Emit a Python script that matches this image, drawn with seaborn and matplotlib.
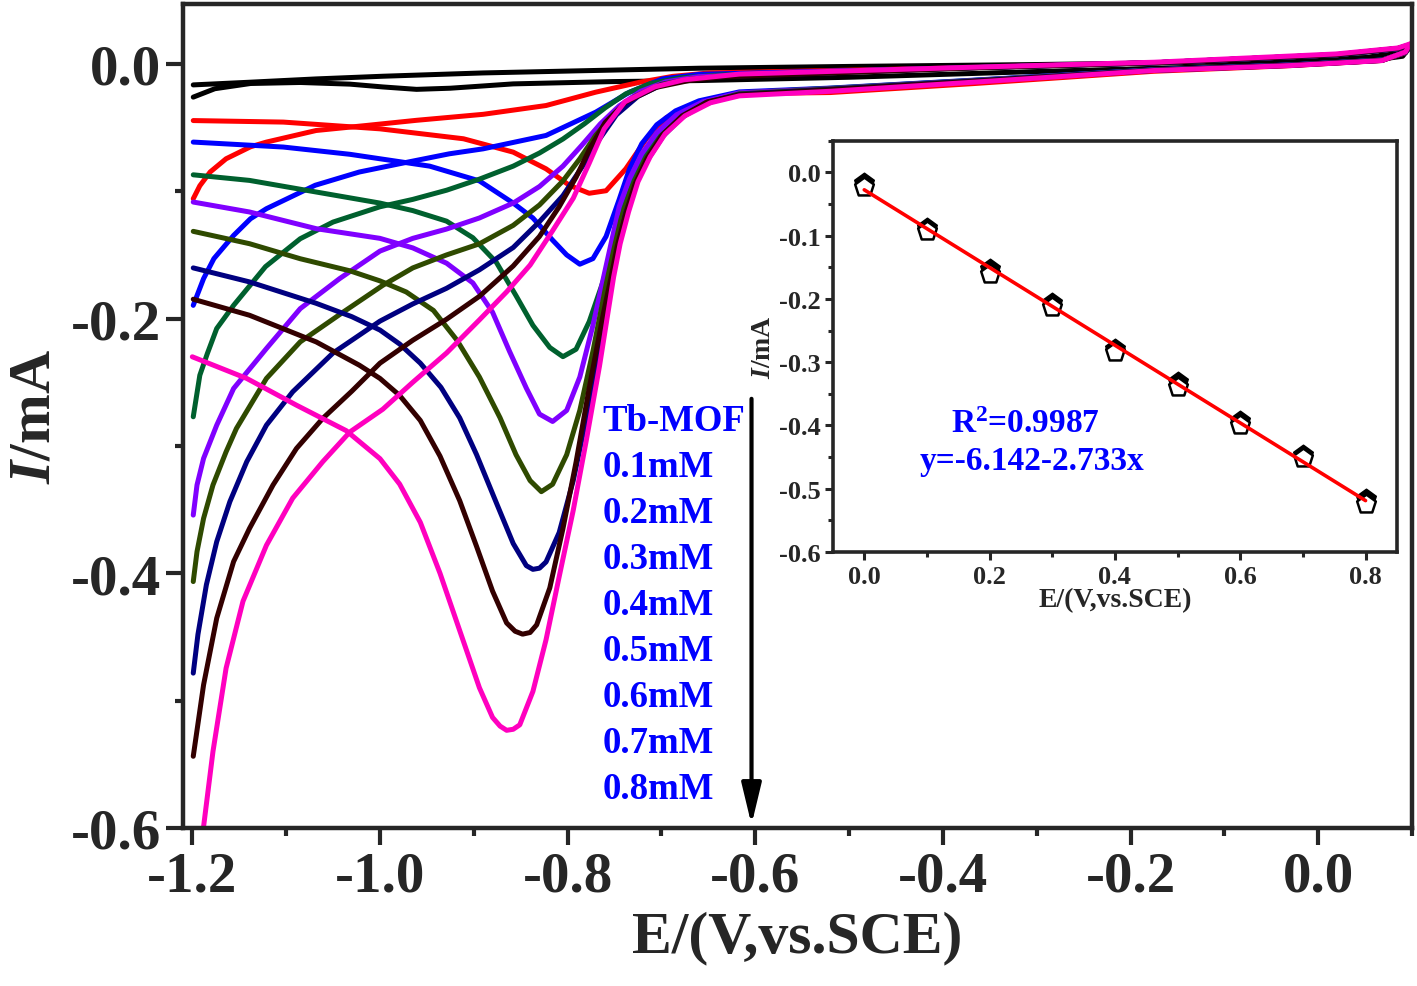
import numpy as np
import pandas as pd
import matplotlib
matplotlib.use('Agg')
import matplotlib.pyplot as plt
from matplotlib.ticker import MultipleLocator
import seaborn as sns

# ---- main CV curves (E in V vs SCE, I in mA) ----
samples = ['Tb-MOF', '0.1mM', '0.2mM', '0.3mM', '0.4mM', '0.5mM', '0.6mM', '0.7mM', '0.8mM']
colors = ['#000000', '#ff0000', '#0000ff', '#00602e', '#8000ff', '#2f4a00', '#000080', '#330000', '#ff00bf']

# branch with the reduction peak
black_peak = [(-1.199, -0.0165), (-1.139, -0.0144), (-1.068, -0.0118), (-0.997, -0.0097), (-0.890, -0.0071),
              (-0.760, -0.0050), (-0.660, -0.0034), (-0.500, -0.0020), (-0.300, -0.0005), (-0.100, 0.0015),
              (0.050, 0.0050), (0.090, 0.0090), (0.098, 0.0135)]
red_peak = [(-1.199, -0.0445), (-1.103, -0.0457), (-1.000, -0.0510), (-0.911, -0.0588), (-0.858, -0.0693),
            (-0.823, -0.0824), (-0.798, -0.0954), (-0.777, -0.1016), (-0.759, -0.0996), (-0.738, -0.0824),
            (-0.716, -0.0588), (-0.695, -0.0424), (-0.670, -0.0329), (-0.635, -0.0261), (-0.596, -0.0232),
            (-0.520, -0.0225), (-0.368, -0.0155), (-0.175, -0.0058), (-0.030, -0.0014), (0.068, 0.0027),
            (0.093, 0.0088), (0.098, 0.0148)]
blue_peak = [(-1.199, -0.0614), (-1.103, -0.0653), (-1.032, -0.0710), (-1.000, -0.0745), (-0.947, -0.0803),
             (-0.894, -0.0919), (-0.858, -0.1093), (-0.837, -0.1210), (-0.816, -0.1384), (-0.801, -0.1500),
             (-0.787, -0.1573), (-0.773, -0.1529), (-0.759, -0.1355), (-0.745, -0.1064), (-0.734, -0.0824),
             (-0.721, -0.0627), (-0.705, -0.0478), (-0.685, -0.0369), (-0.660, -0.0290), (-0.617, -0.0220),
             (-0.520, -0.0190), (-0.368, -0.0128), (-0.175, -0.0046), (-0.030, -0.0008), (0.068, 0.0030),
             (0.093, 0.0090), (0.098, 0.0145)]
green_peak = [(-1.199, -0.0871), (-1.139, -0.0915), (-1.068, -0.1006), (-1.000, -0.1093), (-0.965, -0.1152),
              (-0.929, -0.1235), (-0.901, -0.1365), (-0.876, -0.1558), (-0.855, -0.1820), (-0.837, -0.2053),
              (-0.819, -0.2227), (-0.805, -0.2299), (-0.791, -0.2241), (-0.777, -0.2024), (-0.762, -0.1704),
              (-0.748, -0.1326), (-0.738, -0.1059), (-0.727, -0.0839), (-0.712, -0.0651), (-0.694, -0.0502),
              (-0.670, -0.0376), (-0.644, -0.0290), (-0.617, -0.0227), (-0.520, -0.0192), (-0.368, -0.0130),
              (-0.175, -0.0047), (-0.030, -0.0009), (0.068, 0.0030), (0.093, 0.0090), (0.098, 0.0145)]
purple_peak = [(-1.199, -0.1085), (-1.139, -0.1163), (-1.068, -0.1294), (-1.000, -0.1370), (-0.965, -0.1445),
               (-0.929, -0.1565), (-0.901, -0.1720), (-0.880, -0.1950), (-0.862, -0.2256), (-0.844, -0.2546),
               (-0.830, -0.2750), (-0.816, -0.2808), (-0.801, -0.2721), (-0.787, -0.2459), (-0.773, -0.2053),
               (-0.759, -0.1587), (-0.745, -0.1122), (-0.734, -0.0902), (-0.721, -0.0706), (-0.705, -0.0541),
               (-0.684, -0.0400), (-0.656, -0.0298), (-0.617, -0.0227), (-0.520, -0.0195), (-0.368, -0.0132),
               (-0.175, -0.0048), (-0.030, -0.0009), (0.068, 0.0029), (0.093, 0.0090), (0.098, 0.0145)]
olive_peak = [(-1.199, -0.1315), (-1.139, -0.1412), (-1.085, -0.1530), (-1.032, -0.1625), (-1.000, -0.1704),
              (-0.972, -0.1791), (-0.943, -0.1936), (-0.918, -0.2169), (-0.894, -0.2459), (-0.872, -0.2779),
              (-0.855, -0.3069), (-0.840, -0.3272), (-0.828, -0.3359), (-0.816, -0.3301), (-0.801, -0.3069),
              (-0.787, -0.2721), (-0.773, -0.2256), (-0.759, -0.1733), (-0.751, -0.1467), (-0.743, -0.1216),
              (-0.732, -0.0980), (-0.718, -0.0761), (-0.701, -0.0580), (-0.679, -0.0424), (-0.653, -0.0306),
              (-0.617, -0.0235), (-0.520, -0.0197), (-0.368, -0.0134), (-0.175, -0.0049), (-0.030, -0.0010),
              (0.068, 0.0029), (0.093, 0.0091), (0.098, 0.0146)]
navy_peak = [(-1.199, -0.1602), (-1.139, -0.1712), (-1.068, -0.1880), (-1.030, -0.1985), (-1.000, -0.2090),
             (-0.979, -0.2200), (-0.957, -0.2350), (-0.935, -0.2540), (-0.915, -0.2780), (-0.897, -0.3069),
             (-0.876, -0.3446), (-0.858, -0.3766), (-0.844, -0.3940), (-0.837, -0.3969), (-0.830, -0.3960),
             (-0.823, -0.3911), (-0.809, -0.3680), (-0.794, -0.3272), (-0.780, -0.2779), (-0.766, -0.2256),
             (-0.753, -0.1704), (-0.746, -0.1430), (-0.738, -0.1170), (-0.727, -0.0940), (-0.714, -0.0745),
             (-0.698, -0.0565), (-0.677, -0.0412), (-0.650, -0.0302), (-0.617, -0.0240), (-0.520, -0.0200),
             (-0.368, -0.0136), (-0.175, -0.0050), (-0.030, -0.0011), (0.068, 0.0028), (0.093, 0.0092),
             (0.098, 0.0150)]
brown_peak = [(-1.199, -0.1848), (-1.139, -0.1974), (-1.068, -0.2183), (-1.022, -0.2366), (-1.000, -0.2470),
              (-0.979, -0.2604), (-0.957, -0.2800), (-0.936, -0.3080), (-0.915, -0.3430), (-0.897, -0.3790),
              (-0.880, -0.4140), (-0.865, -0.4390), (-0.856, -0.4455), (-0.848, -0.4478), (-0.840, -0.4465),
              (-0.833, -0.4405), (-0.819, -0.4115), (-0.805, -0.3650), (-0.791, -0.3127), (-0.777, -0.2546),
              (-0.762, -0.1965), (-0.754, -0.1686), (-0.747, -0.1427), (-0.738, -0.1176), (-0.728, -0.0941),
              (-0.715, -0.0737), (-0.699, -0.0557), (-0.678, -0.0408), (-0.651, -0.0298), (-0.617, -0.0243),
              (-0.520, -0.0203), (-0.368, -0.0138), (-0.175, -0.0051), (-0.030, -0.0012), (0.068, 0.0027),
              (0.093, 0.0093), (0.098, 0.0152)]
pink_peak = [(-1.200, -0.2300), (-1.142, -0.2470), (-1.089, -0.2680), (-1.036, -0.2880), (-1.000, -0.3100),
             (-0.979, -0.3300), (-0.957, -0.3600), (-0.936, -0.4000), (-0.915, -0.4450), (-0.894, -0.4899),
             (-0.880, -0.5132), (-0.872, -0.5200), (-0.865, -0.5233), (-0.858, -0.5225), (-0.851, -0.5190),
             (-0.837, -0.4928), (-0.823, -0.4522), (-0.809, -0.4027), (-0.794, -0.3505), (-0.780, -0.2953),
             (-0.766, -0.2372), (-0.751, -0.1675), (-0.744, -0.1412), (-0.735, -0.1161), (-0.725, -0.0925),
             (-0.712, -0.0729), (-0.696, -0.0549), (-0.675, -0.0408), (-0.648, -0.0306), (-0.617, -0.0251),
             (-0.520, -0.0215), (-0.368, -0.0144), (-0.175, -0.0052), (-0.029, -0.0013), (0.068, 0.0026),
             (0.093, 0.0094), (0.098, 0.0157)]

# return branch (starts at the lower point at -1.2 V)
black_ret = [(-1.199, -0.0261), (-1.176, -0.0195), (-1.138, -0.0154), (-1.085, -0.0146), (-1.032, -0.0159),
             (-0.997, -0.0181), (-0.961, -0.0200), (-0.925, -0.0191), (-0.858, -0.0157), (-0.752, -0.0139),
             (-0.660, -0.0131), (-0.500, -0.0105), (-0.300, -0.0060), (-0.100, -0.0020), (0.050, 0.0020),
             (0.090, 0.0060), (0.098, 0.0135)]
red_ret = [(-1.199, -0.1059), (-1.192, -0.0957), (-1.181, -0.0849), (-1.164, -0.0745), (-1.138, -0.0651),
           (-1.121, -0.0614), (-1.068, -0.0523), (-1.015, -0.0484), (-0.961, -0.0443), (-0.890, -0.0396),
           (-0.823, -0.0327), (-0.770, -0.0222), (-0.723, -0.0144), (-0.688, -0.0098), (-0.649, -0.0071),
           (-0.370, -0.0030), (-0.170, 0.0010), (0.020, 0.0072), (0.085, 0.0120), (0.098, 0.0148)]
blue_ret = [(-1.199, -0.1896), (-1.188, -0.1686), (-1.177, -0.1529), (-1.156, -0.1347), (-1.138, -0.1216),
            (-1.121, -0.1137), (-1.069, -0.0953), (-1.022, -0.0849), (-0.979, -0.0784), (-0.926, -0.0706),
            (-0.890, -0.0667), (-0.823, -0.0562), (-0.770, -0.0379), (-0.734, -0.0222), (-0.699, -0.0118),
            (-0.660, -0.0082), (-0.370, -0.0030), (-0.170, 0.0010), (0.020, 0.0072), (0.085, 0.0120),
            (0.098, 0.0145)]
green_ret = [(-1.199, -0.2771), (-1.192, -0.2445), (-1.184, -0.2275), (-1.174, -0.2078), (-1.156, -0.1896),
             (-1.122, -0.1592), (-1.085, -0.1373), (-1.050, -0.1242), (-1.000, -0.1122), (-0.965, -0.1064),
             (-0.929, -0.0992), (-0.894, -0.0905), (-0.858, -0.0803), (-0.830, -0.0700), (-0.805, -0.0590),
             (-0.782, -0.0470), (-0.760, -0.0345), (-0.738, -0.0235), (-0.712, -0.0155), (-0.680, -0.0110),
             (-0.640, -0.0088), (-0.370, -0.0030), (-0.170, 0.0010), (0.020, 0.0072), (0.085, 0.0120),
             (0.098, 0.0145)]
purple_ret = [(-1.199, -0.3543), (-1.195, -0.3307), (-1.188, -0.3098), (-1.174, -0.2837), (-1.156, -0.2549),
              (-1.121, -0.2235), (-1.085, -0.1922), (-1.043, -0.1686), (-1.000, -0.1470), (-0.965, -0.1370),
              (-0.929, -0.1297), (-0.894, -0.1210), (-0.858, -0.1093), (-0.830, -0.0963), (-0.805, -0.0803),
              (-0.785, -0.0640), (-0.765, -0.0470), (-0.745, -0.0330), (-0.722, -0.0215), (-0.695, -0.0140),
              (-0.660, -0.0100), (-0.370, -0.0030), (-0.170, 0.0010), (0.020, 0.0072), (0.085, 0.0120),
              (0.098, 0.0145)]
olive_ret = [(-1.199, -0.4065), (-1.195, -0.3830), (-1.188, -0.3569), (-1.178, -0.3307), (-1.164, -0.3046),
             (-1.153, -0.2863), (-1.121, -0.2470), (-1.085, -0.2183), (-1.039, -0.1948), (-0.997, -0.1739),
             (-0.965, -0.1602), (-0.929, -0.1500), (-0.894, -0.1413), (-0.858, -0.1268), (-0.830, -0.1108),
             (-0.805, -0.0919), (-0.787, -0.0745), (-0.770, -0.0560), (-0.750, -0.0390), (-0.728, -0.0255),
             (-0.700, -0.0160), (-0.670, -0.0120), (-0.635, -0.0098), (-0.370, -0.0030), (-0.170, 0.0010),
             (0.020, 0.0072), (0.085, 0.0120), (0.098, 0.0146)]
navy_ret = [(-1.199, -0.4784), (-1.194, -0.4480), (-1.185, -0.4090), (-1.174, -0.3752), (-1.160, -0.3438),
            (-1.142, -0.3124), (-1.121, -0.2837), (-1.093, -0.2575), (-1.050, -0.2270), (-1.000, -0.2020),
            (-0.965, -0.1885), (-0.929, -0.1762), (-0.894, -0.1617), (-0.858, -0.1442), (-0.830, -0.1239),
            (-0.805, -0.1035), (-0.784, -0.0803), (-0.766, -0.0590), (-0.748, -0.0400), (-0.725, -0.0255),
            (-0.700, -0.0165), (-0.670, -0.0125), (-0.635, -0.0100), (-0.370, -0.0030), (-0.170, 0.0010),
            (0.020, 0.0072), (0.085, 0.0120), (0.098, 0.0150)]
brown_ret = [(-1.199, -0.5437), (-1.188, -0.4876), (-1.174, -0.4353), (-1.156, -0.3908), (-1.139, -0.3647),
             (-1.114, -0.3307), (-1.089, -0.3020), (-1.061, -0.2784), (-1.030, -0.2570), (-1.000, -0.2350),
             (-0.965, -0.2170), (-0.929, -0.2005), (-0.894, -0.1825), (-0.858, -0.1587), (-0.830, -0.1355),
             (-0.809, -0.1122), (-0.791, -0.0890), (-0.776, -0.0660), (-0.760, -0.0460), (-0.738, -0.0300),
             (-0.706, -0.0185), (-0.670, -0.0130), (-0.635, -0.0102), (-0.370, -0.0032), (-0.170, 0.0010),
             (0.020, 0.0073), (0.085, 0.0122), (0.098, 0.0152)]
pink_ret = [(-1.200, -0.6700), (-1.188, -0.5990), (-1.178, -0.5400), (-1.164, -0.4745), (-1.146, -0.4220),
            (-1.121, -0.3780), (-1.093, -0.3410), (-1.061, -0.3124), (-1.032, -0.2890), (-0.997, -0.2712),
            (-0.965, -0.2500), (-0.929, -0.2270), (-0.894, -0.2010), (-0.865, -0.1790), (-0.840, -0.1580),
            (-0.816, -0.1310), (-0.794, -0.1055), (-0.777, -0.0780), (-0.761, -0.0510), (-0.739, -0.0298),
            (-0.707, -0.0180), (-0.676, -0.0125), (-0.617, -0.0080), (-0.368, -0.0026), (-0.175, 0.0013),
            (0.019, 0.0078), (0.085, 0.0125), (0.098, 0.0157)]

peak_branches = [black_peak, red_peak, blue_peak, green_peak, purple_peak, olive_peak, navy_peak, brown_peak, pink_peak]
ret_branches = [black_ret, red_ret, blue_ret, green_ret, purple_ret, olive_ret, navy_ret, brown_ret, pink_ret]

# ---- inset: peak current vs concentration ----
conc = [0.0, 0.1, 0.2, 0.3, 0.4, 0.5, 0.6, 0.7, 0.8]
ip_filled = [-0.0167, -0.0877, -0.153, -0.206, -0.2785, -0.332, -0.3924, -0.4465, -0.517]
ip_open = [-0.023, -0.093, -0.160, -0.2125, -0.2845, -0.339, -0.399, -0.452, -0.524]

rows = []
for name, pk, rt in zip(samples, peak_branches, ret_branches):
    for tag, pts in (('peak', pk), ('ret', rt)):
        for e, i in pts:
            rows.append({'E': e, 'I': i, 'sample': name, 'branch': tag})
df = pd.DataFrame(rows)

sns.set_theme(style='ticks')
plt.rcParams['font.family'] = ['Liberation Serif', 'DejaVu Serif']
plt.rcParams['font.weight'] = 'bold'
plt.rcParams['axes.labelweight'] = 'bold'
plt.rcParams['axes.unicode_minus'] = False
plt.rcParams['mathtext.fontset'] = 'custom'
plt.rcParams['mathtext.it'] = 'Liberation Serif:italic:bold'
plt.rcParams['mathtext.rm'] = 'Liberation Serif:bold'
plt.rcParams['mathtext.bf'] = 'Liberation Serif:bold'

fig = plt.figure(figsize=(14.17, 9.87), dpi=100)
ax = fig.add_axes([0.1291, 0.1601, 0.8674, 0.8348])

sns.lineplot(data=df, x='E', y='I', hue='sample', units='branch', estimator=None, sort=False,
             hue_order=samples, palette=dict(zip(samples, colors)), linewidth=3.6,
             legend=False, ax=ax, solid_joinstyle='round', solid_capstyle='round')

ax.set_xlim(-1.21, 0.1)
ax.set_ylim(-0.6, 0.047)
fmt = plt.FuncFormatter(lambda v, p: '%.1f' % (0.0 if abs(v) < 1e-9 else v))
ax.xaxis.set_major_locator(MultipleLocator(0.2))
ax.xaxis.set_minor_locator(MultipleLocator(0.1))
ax.yaxis.set_major_locator(MultipleLocator(0.2))
ax.yaxis.set_minor_locator(MultipleLocator(0.1))
ax.xaxis.set_major_formatter(fmt)
ax.yaxis.set_major_formatter(fmt)
ax.tick_params(which='major', direction='out', length=12, width=3, labelsize=41, pad=4)
ax.tick_params(which='minor', direction='out', length=6, width=3)
for s in ax.spines.values():
    s.set_linewidth(3.2)
ax.set_xlabel('E/(V,vs.SCE)', fontsize=43, labelpad=6)
ax.set_ylabel('$I$/mA', fontsize=43, labelpad=6)

# concentration labels and arrow
lab_x, lab_y0, lab_dy = -0.763, -0.2878, 0.0361
for k, s in enumerate(samples):
    ax.text(lab_x, lab_y0 - k * lab_dy, s, color='#0000ff', fontsize=26.5, fontweight='bold',
            ha='left', va='baseline')
ax.annotate('', xy=(-0.604, -0.5975), xytext=(-0.604, -0.263),
            arrowprops=dict(arrowstyle='-|>,head_length=1.25,head_width=0.3', lw=3, color='black',
                            mutation_scale=20, shrinkA=0, shrinkB=0))

# ---- inset ----
axin = fig.add_axes([0.5878, 0.4397, 0.398, 0.4167])
fit_y = (np.array(ip_filled) + np.array(ip_open)) / 2
slope, icpt = np.polyfit(conc, fit_y, 1)
sns.scatterplot(x=conc, y=ip_filled, marker='p', s=215, color='black', edgecolor='black',
                linewidth=1.2, ax=axin, zorder=3)
sns.scatterplot(x=conc, y=ip_open, marker='p', s=200, color='white', edgecolor='black',
                linewidth=1.8, ax=axin, zorder=4)
fit_x = [conc[0], conc[-1]]
sns.lineplot(x=fit_x, y=[icpt + slope * v for v in fit_x], color='#ff0000', linewidth=2.6,
             ax=axin, zorder=5)
axin.set_xlim(-0.05, 0.85)
axin.set_ylim(-0.6, 0.05)
axin.xaxis.set_major_locator(MultipleLocator(0.2))
axin.xaxis.set_minor_locator(MultipleLocator(0.1))
axin.yaxis.set_major_locator(MultipleLocator(0.1))
axin.yaxis.set_minor_locator(MultipleLocator(0.05))
axin.xaxis.set_major_formatter(fmt)
axin.yaxis.set_major_formatter(fmt)
axin.tick_params(which='major', direction='out', length=6, width=2.2, labelsize=19, pad=3)
axin.tick_params(which='minor', direction='out', length=3.5, width=2.2)
for s in axin.spines.values():
    s.set_linewidth(2.6)
axin.set_xlabel('E/(V,vs.SCE)', fontsize=20, labelpad=0)
axin.set_ylabel('$I$/mA', fontsize=20, labelpad=2)
axin.text(0.257, -0.410, 'R$^2$=0.9987', color='#0000ff', fontsize=24, fontweight='bold',
          ha='center', va='baseline')
axin.text(0.267, -0.4686, 'y=-6.142-2.733x', color='#0000ff', fontsize=24, fontweight='bold',
          ha='center', va='baseline')

fig.savefig('out.png', dpi=100)
